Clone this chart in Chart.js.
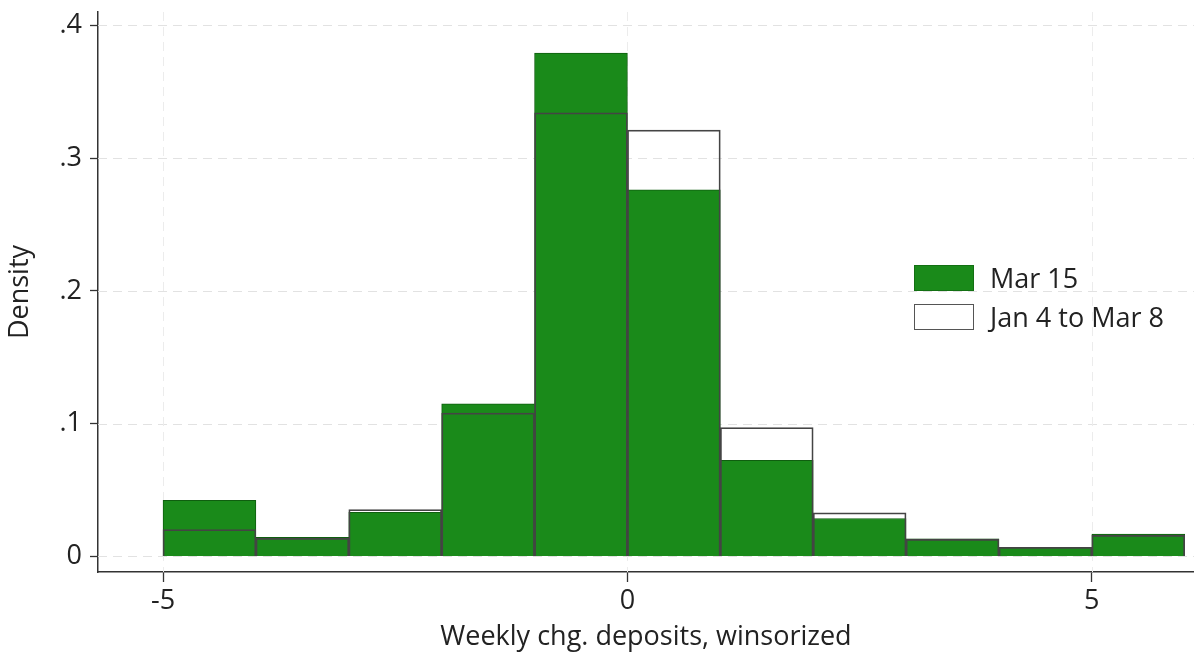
<!DOCTYPE html>
<html>
<head>
<meta charset="utf-8">
<script src="https://cdn.jsdelivr.net/npm/chart.js@4.4.1/dist/chart.umd.min.js"></script>
<style>
  html, body { margin: 0; padding: 0; background: #ffffff; }
  #wrap { position: relative; width: 1194px; height: 656px; }
  #chart { position: absolute; left: 0; top: 0; }
  .legend { position: absolute; left: 914px; top: 258px; font-family: "Open Sans", sans-serif; font-size: 27px; color: #222; }
  .legend .row { display: flex; align-items: center; height: 39px; }
  .legend .sw { width: 60px; height: 26px; margin-right: 16px; box-sizing: border-box; }
  .legend .sw.green { background: #1a8a1a; border: 1px solid #137013; }
  .legend .sw.open { background: #ffffff; border: 1.5px solid #555; }
</style>
</head>
<body>
<div id="wrap">
  <canvas id="chart" width="1194" height="656"></canvas>
  <div class="legend">
    <div class="row"><div class="sw green"></div><span>Mar 15</span></div>
    <div class="row"><div class="sw open"></div><span>Jan 4 to Mar 8</span></div>
  </div>
</div>
<script>
// Histogram bins (width 1), given by their centres
const binCenters = [-4.5, -3.5, -2.5, -1.5, -0.5, 0.5, 1.5, 2.5, 3.5, 4.5, 5.5];
// Density per bin, week of Mar 15
const densityMar15 = [0.0423, 0.0145, 0.0333, 0.115, 0.379, 0.276, 0.0724, 0.0286, 0.0133, 0.0068, 0.0168];
// Density per bin, pooled weeks Jan 4 to Mar 8
const densityJanMar = [0.0203, 0.0137, 0.0353, 0.108, 0.334, 0.321, 0.097, 0.0328, 0.0130, 0.0068, 0.0160];
// Axis ticks
const xTicks = [-5, 0, 5];
const yTicks = [0, 0.1, 0.2, 0.3, 0.4];

const FONT = '"Open Sans", sans-serif';
const AXIS_COLOR = '#333333';

const toPoints = vals => binCenters.map((c, i) => ({ x: c, y: vals[i] }));

// Dashed reference grid under the bars
const dashedGrid = {
  id: 'dashedGrid',
  beforeDatasetsDraw(chart) {
    const { ctx, chartArea: a, scales: { x, y } } = chart;
    ctx.save();
    ctx.lineWidth = 1;
    ctx.setLineDash([9, 6]);
    ctx.strokeStyle = '#e2e2e2';
    yTicks.forEach(v => {
      const py = Math.round(y.getPixelForValue(v)) + 0.5;
      ctx.beginPath(); ctx.moveTo(a.left, py); ctx.lineTo(a.right, py); ctx.stroke();
    });
    ctx.strokeStyle = '#ececec';
    xTicks.forEach(v => {
      const px = Math.round(x.getPixelForValue(v)) + 0.5;
      ctx.beginPath(); ctx.moveTo(px, a.top); ctx.lineTo(px, a.bottom); ctx.stroke();
    });
    ctx.restore();
  }
};

new Chart(document.getElementById('chart'), {
  type: 'bar',
  data: {
    datasets: [
      {
        label: 'Mar 15',
        data: toPoints(densityMar15),
        backgroundColor: '#1a8a1a',
        borderColor: '#0f5e0f',
        borderWidth: 1,
        order: 1
      },
      {
        label: 'Jan 4 to Mar 8',
        data: toPoints(densityJanMar),
        backgroundColor: 'rgba(0,0,0,0)',
        borderColor: '#444444',
        borderWidth: 1.1,
        order: 0
      }
    ]
  },
  options: {
    responsive: false,
    animation: false,
    events: [],
    layout: { padding: { top: 12, right: 0, left: 0, bottom: 0 } },
    datasets: {
      bar: { grouped: false, barPercentage: 1, categoryPercentage: 1 }
    },
    plugins: {
      legend: { display: false },
      tooltip: { enabled: false }
    },
    scales: {
      x: {
        type: 'linear',
        min: -5.7,
        max: 6.1,
        offset: false,
        afterFit(s) { s.height = 84; s.paddingLeft = 0; s.paddingRight = 0; },
        afterBuildTicks(s) { s.ticks = xTicks.map(v => ({ value: v })); },
        grid: { offset: false, drawOnChartArea: false, drawTicks: true, tickLength: 10, tickColor: AXIS_COLOR, tickWidth: 1.3 },
        border: { display: true, color: AXIS_COLOR, width: 1.5 },
        ticks: {
          autoSkip: false, maxRotation: 0, padding: 3,
          color: '#222', font: { family: FONT, size: 27 },
          callback: v => String(v)
        },
        title: {
          display: true, text: 'Weekly chg. deposits, winsorized',
          color: '#222', font: { family: FONT, size: 27 },
          padding: { top: 0, bottom: 2 }
        }
      },
      y: {
        min: -0.0117,
        max: 0.41,
        afterFit(s) { s.width = 98; s.paddingTop = 0; s.paddingBottom = 0; },
        afterBuildTicks(s) { s.ticks = yTicks.map(v => ({ value: v })); },
        grid: { offset: false, drawOnChartArea: false, drawTicks: true, tickLength: 8, tickColor: AXIS_COLOR, tickWidth: 1.3 },
        border: { display: true, color: AXIS_COLOR, width: 1.5 },
        ticks: {
          autoSkip: false, padding: 8,
          color: '#222', font: { family: FONT, size: 27 },
          callback: v => (v === 0 ? '0' : String(Math.round(v * 10) / 10).replace(/^0/, ''))
        },
        title: {
          display: true, text: 'Density',
          color: '#222', font: { family: FONT, size: 27 },
          padding: { top: 4, bottom: 0 }
        }
      }
    }
  },
  plugins: [dashedGrid]
});
</script>
</body>
</html>
